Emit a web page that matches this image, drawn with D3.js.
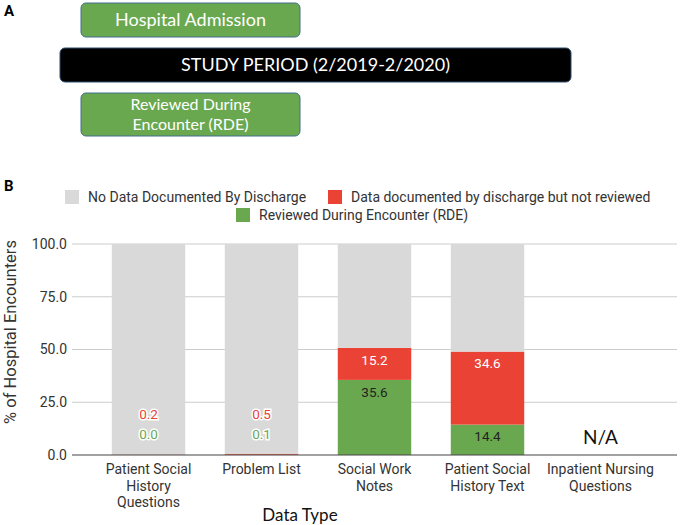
<!DOCTYPE html>
<html>
<head>
<meta charset="utf-8">
<script src="https://cdn.jsdelivr.net/npm/d3@7"></script>
<style>
  body { margin: 0; background: #fff; }
  text { font-family: Roboto, "Liberation Sans", sans-serif; }
  .calibri { font-family: Lato, "Open Sans", sans-serif; }
</style>
</head>
<body>
<svg id="chart" width="680" height="525"></svg>
<script>
// chart data
const categories = ["Patient Social\nHistory\nQuestions", "Problem List", "Social Work\nNotes", "Patient Social\nHistory Text", "Inpatient Nursing\nQuestions"];
const rde = [0.0, 0.1, 35.6, 14.4, null];
const notReviewed = [0.2, 0.5, 15.2, 34.6, null];
const noData = [99.8, 99.4, 49.2, 51.0, null];
const yTicks = [0, 25, 50, 75, 100];
const seriesNames = ["Reviewed During Encounter (RDE)", "Data documented by discharge but not reviewed", "No Data Documented By Discharge"];

const svg = d3.select("#chart");

// ---- panel A: timeline boxes
svg.append("text").attr("x", 4).attr("y", 16)
    .attr("font-weight", "bold").attr("font-size", 15).text("A");

const boxes = [
    {x: 81, y: 3, w: 219, h: 34, fill: "#6aa84f", stroke: "#3f6f8f", lines: ["Hospital Admission"], color: "#fff"},
    {x: 60, y: 48, w: 511, h: 34, fill: "#000", stroke: "#2f4f6f", lines: ["STUDY PERIOD (2/2019-2/2020)"], color: "#fff"},
    {x: 81, y: 93, w: 219, h: 43, fill: "#6aa84f", stroke: "#3f6f8f", lines: ["Reviewed During", "Encounter (RDE)"], color: "#fff"}
];
const boxG = svg.selectAll("g.box").data(boxes).enter().append("g").attr("class", "box");
boxG.append("rect")
    .attr("x", d => d.x).attr("y", d => d.y)
    .attr("width", d => d.w).attr("height", d => d.h)
    .attr("rx", 5)
    .attr("fill", d => d.fill).attr("stroke", d => d.stroke).attr("stroke-width", 1);
boxG.each(function(d) {
    const g = d3.select(this);
    const lh = 20;
    const n = d.lines.length;
    d.lines.forEach((l, i) => {
        g.append("text").attr("class", "calibri")
            .attr("x", d.x + d.w / 2)
            .attr("y", d.y + d.h / 2 + (i - (n - 1) / 2) * lh)
            .attr("dy", "0.35em")
            .attr("text-anchor", "middle")
            .attr("fill", d.color)
            .attr("font-size", n > 1 ? 16 : 18)
            .text(l);
    });
});

// ---- panel B
svg.append("text").attr("x", 4).attr("y", 191)
    .attr("font-weight", "bold").attr("font-size", 15).text("B");

const colors = {rde: "#6aa84f", notReviewed: "#ea4335", noData: "#d9d9d9"};

// legend
const legendItems = [
    {key: "noData", label: seriesNames[2], x: 65, y: 197},
    {key: "notReviewed", label: seriesNames[1], x: 328, y: 197},
    {key: "rde", label: seriesNames[0], x: 236, y: 215}
];
const leg = svg.selectAll("g.legend").data(legendItems).enter().append("g")
    .attr("class", "legend")
    .attr("transform", d => `translate(${d.x},${d.y})`);
leg.append("rect").attr("x", 0).attr("y", -7).attr("width", 14).attr("height", 14)
    .attr("fill", d => colors[d.key]);
leg.append("text").attr("x", 23).attr("dy", "0.35em")
    .attr("font-size", 14).attr("fill", "#333").text(d => d.label);

const x = d3.scaleBand()
    .domain(categories)
    .range([92, 657])
    .paddingInner(0.35)
    .paddingOuter(0.175);

const y = d3.scaleLinear().domain([0, 100]).range([455, 244]);

// gridlines
svg.append("g").selectAll("line").data(yTicks.filter(t => t > 0)).enter().append("line")
    .attr("x1", 72).attr("x2", 677)
    .attr("y1", d => y(d)).attr("y2", d => y(d))
    .attr("stroke", "#cccccc").attr("stroke-width", 1);

// y axis labels
const yAxis = svg.append("g")
    .attr("transform", "translate(67,0)")
    .call(d3.axisLeft(y).tickValues(yTicks).tickFormat(d3.format(".1f")).tickSize(0).tickPadding(0));
yAxis.select(".domain").remove();
yAxis.selectAll("text").attr("font-size", 14).attr("fill", "#333")
    .style("font-family", "Roboto, sans-serif");

// stacked bars
const rows = categories.map((c, i) => ({
    cat: c,
    rde: rde[i] || 0,
    notReviewed: notReviewed[i] || 0,
    noData: noData[i] || 0,
    na: rde[i] === null
}));
const keys = ["rde", "notReviewed", "noData"];
const stacked = d3.stack().keys(keys)(rows);

svg.append("g").selectAll("g").data(stacked).enter().append("g")
    .attr("fill", d => colors[d.key])
    .selectAll("rect").data(d => d.filter(s => !s.data.na)).enter().append("rect")
    .attr("x", d => x(d.data.cat))
    .attr("width", x.bandwidth())
    .attr("y", d => y(d[1]))
    .attr("height", d => y(d[0]) - y(d[1]));

// baseline
svg.append("line").attr("x1", 72).attr("x2", 677)
    .attr("y1", y(0)).attr("y2", y(0))
    .attr("stroke", "#444").attr("stroke-width", 1.2);

// value labels
const labels = [];
rows.forEach(r => {
    if (r.na) return;
    const cx = x(r.cat) + x.bandwidth() / 2;
    if (r.rde + r.notReviewed < 5) {
        // tiny segments: labels in the grey area with halo
        labels.push({x: cx, y: y(0) - 41, text: d3.format(".1f")(r.notReviewed), fill: colors.notReviewed, halo: true});
        labels.push({x: cx, y: y(0) - 21, text: d3.format(".1f")(r.rde), fill: colors.rde, halo: true});
    } else {
        labels.push({x: cx, y: y(r.rde + r.notReviewed) + 12, text: d3.format(".1f")(r.notReviewed), fill: "#fff"});
        labels.push({x: cx, y: y(r.rde) + 12, text: d3.format(".1f")(r.rde), fill: "#222"});
    }
});
svg.append("g").selectAll("text").data(labels).enter().append("text")
    .attr("x", d => d.x).attr("y", d => d.y)
    .attr("dy", "0.35em")
    .attr("text-anchor", "middle")
    .attr("font-size", 13.5)
    .attr("fill", d => d.fill)
    .attr("stroke", d => d.halo ? "#fff" : "none")
    .attr("stroke-width", 3)
    .attr("paint-order", "stroke")
    .text(d => d.text);

// N/A marker
rows.filter(r => r.na).forEach(r => {
    svg.append("text").attr("class", "calibri")
        .attr("x", x(r.cat) + x.bandwidth() / 2)
        .attr("y", y(0) - 18)
        .attr("dy", "0.35em")
        .attr("text-anchor", "middle")
        .attr("font-size", 19)
        .attr("fill", "#111")
        .text("N/A");
});

// x axis labels (multi-line)
const xl = svg.append("g").selectAll("text").data(categories).enter().append("text")
    .attr("text-anchor", "middle")
    .attr("font-size", 14)
    .attr("fill", "#333")
    .attr("x", d => x(d) + x.bandwidth() / 2)
    .attr("y", 474);
xl.each(function(d) {
    const t = d3.select(this);
    d.split("\n").forEach((line, i) => {
        t.append("tspan")
            .attr("x", x(d) + x.bandwidth() / 2)
            .attr("dy", i === 0 ? 0 : 16.5)
            .text(line);
    });
});

// axis titles
svg.append("text").attr("class", "calibri")
    .attr("x", 300).attr("y", 521)
    .attr("text-anchor", "middle")
    .attr("font-size", 17).attr("fill", "#111")
    .text("Data Type");

svg.append("text")
    .attr("transform", "translate(16,332) rotate(-90)")
    .attr("text-anchor", "middle")
    .attr("font-size", 16.5).attr("fill", "#333")
    .text("% of Hospital Encounters");
</script>
</body>
</html>
